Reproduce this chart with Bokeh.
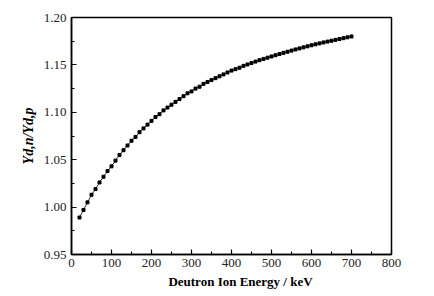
from bokeh.plotting import figure
from bokeh.models import Range1d, FixedTicker, NumeralTickFormatter, Label
from bokeh.embed import file_html
from bokeh.resources import INLINE

energy_kev = list(range(20, 701, 10))
ratio = [
    0.989, 0.997, 1.005, 1.013, 1.019, 1.026, 1.032, 1.038, 1.043, 1.049,
    1.055, 1.060, 1.065, 1.070, 1.074, 1.079, 1.083, 1.087, 1.091, 1.095,
    1.098, 1.102, 1.105, 1.108, 1.111, 1.114, 1.117, 1.120, 1.122, 1.125,
    1.127, 1.130, 1.132, 1.134, 1.136, 1.138, 1.140, 1.142, 1.144, 1.1455,
    1.147, 1.149, 1.1505, 1.152, 1.1535, 1.155, 1.1563, 1.1576, 1.1589, 1.1602,
    1.1615, 1.1627, 1.1639, 1.1651, 1.1663, 1.1674, 1.1685, 1.1696, 1.1707, 1.1717,
    1.1727, 1.1737, 1.1746, 1.1755, 1.1764, 1.1773, 1.1782, 1.1791, 1.180,
]
x_ticks = [0, 100, 200, 300, 400, 500, 600, 700, 800]
x_minor = list(range(0, 801, 50))
y_ticks = [0.95, 1.00, 1.05, 1.10, 1.15, 1.20]
y_minor = [0.95 + 0.025 * i for i in range(11)]
x_title = "Deutron Ion Energy / keV"
y_title = "Yd,n/Yd,p"

SERIF = "Liberation Serif"

p = figure(width=434, height=296, output_backend="svg", toolbar_location=None,
           x_range=Range1d(0, 800), y_range=Range1d(0.95, 1.20),
           min_border_left=71, min_border_right=43, min_border_top=17,
           min_border_bottom=42)
p.xgrid.visible = False
p.ygrid.visible = False
p.outline_line_color = "black"
p.outline_line_width = 1.5
p.outline_line_alpha = 1.0
p.background_fill_color = "white"
p.border_fill_color = "white"

p.xaxis.ticker = FixedTicker(ticks=x_ticks, minor_ticks=x_minor)
p.yaxis.ticker = FixedTicker(ticks=y_ticks, minor_ticks=y_minor)
p.yaxis.formatter = NumeralTickFormatter(format="0.00")
for ax in (p.xaxis[0], p.yaxis[0]):
    ax.axis_line_width = 1.5
    ax.axis_line_color = "black"
    ax.major_tick_in = 5
    ax.major_tick_out = 0
    ax.minor_tick_in = 3
    ax.minor_tick_out = 0
    ax.major_tick_line_width = 1.2
    ax.minor_tick_line_width = 1.0
    ax.major_label_text_font = SERIF
    ax.major_label_text_font_size = "13px"
    ax.major_label_text_font_style = "normal"
    ax.major_label_text_color = "#222222"
    ax.major_label_standoff = 5
p.xaxis.major_label_standoff = 4

p.yaxis.axis_label = y_title
p.yaxis.axis_label_text_font = SERIF
p.yaxis.axis_label_text_font_style = "bold italic"
p.yaxis.axis_label_text_font_size = "14px"
p.yaxis.axis_label_text_color = "black"
p.yaxis.axis_label_standoff = 5

p.line(energy_kev, ratio, line_color="black", line_width=0.8)
p.scatter(energy_kev, ratio, marker="square", size=3, color="black")

p.add_layout(Label(x=240 - 71, y=3, x_units="screen", y_units="screen",
                   text=x_title, text_font=SERIF, text_font_style="bold",
                   text_font_size="13px", text_align="center",
                   text_baseline="alphabetic", text_color="black"), "below")

open("out.html", "w").write(file_html(p, INLINE))
